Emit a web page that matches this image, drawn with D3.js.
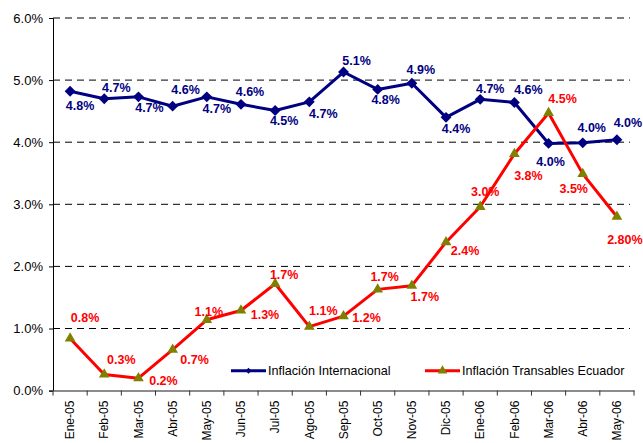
<!DOCTYPE html>
<html lang="es">
<head>
<meta charset="UTF-8">
<title>Inflación</title>
<script src="https://cdn.jsdelivr.net/npm/d3@7/dist/d3.min.js"></script>
<style>
  body { margin: 0; background: #fff; }
  text { font-family: "Liberation Sans", Arial, sans-serif; }
</style>
</head>
<body>
<svg width="643" height="443"></svg>
<script>
// datos
const months = ['Ene-05','Feb-05','Mar-05','Abr-05','May-05','Jun-05','Jul-05','Ago-05','Sep-05','Oct-05','Nov-05','Dic-05','Ene-06','Feb-06','Mar-06','Abr-06','May-06'];
const internacional = [4.82,4.70,4.73,4.58,4.73,4.61,4.51,4.65,5.13,4.85,4.95,4.40,4.69,4.64,3.98,3.99,4.04];
const internacionalLabels = ['4.8%','4.7%','4.7%','4.6%','4.7%','4.6%','4.5%','4.7%','5.1%','4.8%','4.9%','4.4%','4.7%','4.6%','4.0%','4.0%','4.0%'];
const transables = [0.84,0.26,0.20,0.66,1.14,1.29,1.72,1.03,1.20,1.63,1.69,2.39,2.96,3.81,4.47,3.49,2.80];
const transablesLabels = ['0.8%','0.3%','0.2%','0.7%','1.1%','1.3%','1.7%','1.1%','1.2%','1.7%','1.7%','2.4%','3.0%','3.8%','4.5%','3.5%','2.80%'];
const yTicks = [0,1,2,3,4,5,6];

// desplazamiento de las etiquetas respecto al punto [dx, dy]
const blueOff = [[10,15],[12,-10],[11,12],[13,-15],[10,13],[9,-12],[9,11],[14,13],[13,-10],[8,11],[9,-13],[10,12],[10,-10],[14,-12],[2,19],[9,-14],[11,-16]];
const redOff = [[15,-20],[17,-14],[25,4],[22,11],[2,-7],[24,5],[9,-8],[14,-15],[23,3],[7,-12],[13,12],[19,10],[5,-14],[14,23],[14,-13],[-9,16],[8,24]];

const svg = d3.select('svg');
const mLeft = 53, mRight = 634, mTop = 18, mBottom = 390.6;

const x = d3.scaleBand().domain(months).range([mLeft, mRight]).paddingInner(0).paddingOuter(0);
const y = d3.scaleLinear().domain([0, 6]).range([mBottom, mTop]);
const cx = d => x(d) + x.bandwidth() / 2;

// grid
svg.append('g')
  .selectAll('line')
  .data(yTicks.filter(d => d > 0))
  .join('line')
  .attr('x1', mLeft).attr('x2', 630)
  .attr('y1', d => y(d)).attr('y2', d => y(d))
  .attr('stroke', '#000')
  .attr('stroke-width', 1)
  .attr('stroke-dasharray', '7,5');

// eje y
const yAxis = svg.append('g')
  .attr('transform', `translate(${mLeft},0)`)
  .call(d3.axisLeft(y).tickValues(yTicks).tickSize(4).tickPadding(6).tickFormat(d => d.toFixed(1) + '%'));
yAxis.select('.domain').attr('stroke', '#000');
yAxis.selectAll('text').attr('font-size', 13).attr('fill', '#000')
  .style('font-family', '"Liberation Sans", Arial, sans-serif');

// eje x
const xAxis = svg.append('g')
  .attr('transform', `translate(0,${mBottom})`)
  .call(d3.axisBottom(x).tickSize(0).tickSizeOuter(0));
xAxis.select('.domain').attr('stroke', '#666').attr('stroke-width', 1.5);
xAxis.selectAll('text')
  .attr('font-size', 12).attr('fill', '#000')
  .style('font-family', '"Liberation Sans", Arial, sans-serif')
  .attr('transform', 'rotate(-90)')
  .attr('text-anchor', 'end')
  .attr('x', -10).attr('y', 0).attr('dy', '0.35em');
svg.append('g')
  .selectAll('line')
  .data(months.concat(['end']))
  .join('line')
  .attr('x1', (d, i) => mLeft + i * x.bandwidth())
  .attr('x2', (d, i) => mLeft + i * x.bandwidth())
  .attr('y1', mBottom).attr('y2', mBottom + 5)
  .attr('stroke', '#333');

// lineas
const line = vals => d3.line().x((d, i) => cx(months[i])).y(d => y(d))(vals);

svg.append('path').attr('d', line(internacional))
  .attr('fill', 'none').attr('stroke', '#000080').attr('stroke-width', 3).attr('stroke-linejoin', 'round');
svg.append('path').attr('d', line(transables))
  .attr('fill', 'none').attr('stroke', '#ff0000').attr('stroke-width', 3).attr('stroke-linejoin', 'round');

const diamond = d3.symbol().type(d3.symbolDiamond2).size(75);
const triangle = d3.symbol().type(d3.symbolTriangle).size(50);

svg.append('g').selectAll('path')
  .data(internacional)
  .join('path')
  .attr('d', diamond)
  .attr('transform', (d, i) => `translate(${cx(months[i])},${y(d)})`)
  .attr('fill', '#000080');

svg.append('g').selectAll('path')
  .data(transables)
  .join('path')
  .attr('d', triangle)
  .attr('transform', (d, i) => `translate(${cx(months[i])},${y(d)})`)
  .attr('fill', '#808000');

// etiquetas
svg.append('g').selectAll('text')
  .data(internacional)
  .join('text')
  .attr('x', (d, i) => cx(months[i]) + blueOff[i][0])
  .attr('y', (d, i) => y(d) + blueOff[i][1])
  .attr('text-anchor', 'middle').attr('dominant-baseline', 'middle')
  .attr('font-size', 12.5).attr('font-weight', 'bold').attr('fill', '#000080')
  .text((d, i) => internacionalLabels[i]);

svg.append('g').selectAll('text')
  .data(transables)
  .join('text')
  .attr('x', (d, i) => cx(months[i]) + redOff[i][0])
  .attr('y', (d, i) => y(d) + redOff[i][1])
  .attr('text-anchor', 'middle').attr('dominant-baseline', 'middle')
  .attr('font-size', 12.5).attr('font-weight', 'bold').attr('fill', '#ff0000')
  .text((d, i) => transablesLabels[i]);

// leyenda
const legend = [
  { name: 'Inflación Internacional', color: '#000080', mark: '#000080', sym: d3.symbol().type(d3.symbolDiamond2).size(22), x: 231 },
  { name: 'Inflación Transables Ecuador', color: '#ff0000', mark: '#808000', sym: d3.symbol().type(d3.symbolTriangle).size(40), x: 425 }
];
const lg = svg.append('g').selectAll('g')
  .data(legend)
  .join('g')
  .attr('transform', d => `translate(${d.x},370.7)`);
lg.append('line').attr('x1', 0).attr('x2', 35).attr('stroke', d => d.color).attr('stroke-width', 3);
lg.append('path').attr('d', d => d.sym()).attr('transform', 'translate(17.5,0)').attr('fill', d => d.mark);
lg.append('text').attr('x', 37).attr('dy', '0.35em')
  .attr('font-size', 12.6).attr('fill', '#000')
  .text(d => d.name);
</script>
</body>
</html>
